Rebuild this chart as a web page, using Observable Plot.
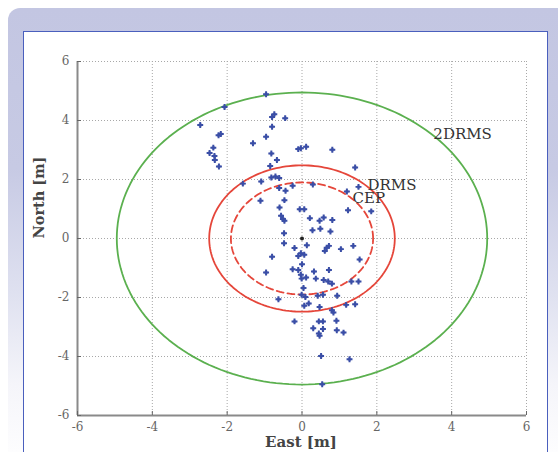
<!DOCTYPE html>
<html>
<head>
<meta charset="utf-8">
<script src="https://cdn.jsdelivr.net/npm/d3@7"></script>
<script src="https://cdn.jsdelivr.net/npm/@observablehq/plot@0.6"></script>
<style>
  html, body { margin: 0; padding: 0; background: #fff; }
  #page { position: relative; width: 558px; height: 452px; overflow: hidden; background: #fff; }
  #bg { position: absolute; left: 8px; top: 8px; width: 560px; height: 460px; border-radius: 12px 0 0 0;
        background: linear-gradient(to bottom, #c3c6e2 0%, #c7cae4 35%, #dfe1f0 62%, #f5f5fa 82%, #ffffff 100%); }
  #panel { position: absolute; left: 23px; top: 31px; width: 525px; height: 440px; box-sizing: border-box;
           background: #fff; border: 1.5px solid #4a5fbd; }
  #chart { position: absolute; left: 0; top: 0; }
</style>
</head>
<body>
<div id="page">
  <div id="bg"></div>
  <div id="panel"></div>
  <div id="chart"></div>
</div>
<script>
// --- data ---
const east = [-0.96,-2.07,-2.72,-0.74,-0.80,-0.45,-0.80,-2.23,-2.17,-0.96,-1.31,-2.37,-2.47,-2.34,-2.33,-2.22,-0.10,-0.03,0.11,0.81,-0.82,-0.67,-0.85,1.42,-1.58,-1.09,-0.82,-0.71,-0.61,-0.25,0.29,-0.61,-0.44,1.20,1.51,-1.11,-0.47,-0.60,-0.06,0.06,1.23,1.85,-0.56,-0.51,-0.47,0.21,0.47,0.58,0.81,0.28,0.49,0.76,-0.48,-0.48,0.13,-0.20,0.66,0.72,1.04,1.37,0.61,-0.03,-0.10,-0.80,0.06,1.54,0.00,-0.25,-0.10,-0.96,-0.03,0.32,0.72,-0.01,0.11,0.37,0.58,0.70,0.80,1.32,1.51,0.04,-0.63,-0.01,0.09,0.42,0.56,0.94,1.42,1.18,0.06,0.18,0.47,0.80,0.84,-0.20,0.45,0.56,0.92,0.30,0.56,0.93,1.11,0.45,0.47,0.51,1.27,0.54];
const north = [4.89,4.46,3.85,4.21,4.12,4.08,3.79,3.50,3.54,3.45,3.23,3.08,2.90,2.80,2.66,2.44,3.03,3.06,3.11,3.01,2.88,2.66,2.46,2.41,1.86,1.93,2.07,2.10,2.05,1.79,1.83,1.71,1.62,1.59,1.75,1.28,1.30,1.05,0.99,0.99,0.96,0.92,0.77,0.66,0.60,0.69,0.60,0.71,0.63,0.28,0.33,0.24,0.18,-0.16,-0.23,-0.32,-0.31,-0.25,-0.36,-0.25,-0.42,-0.50,-0.59,-0.62,-0.55,-0.71,-0.87,-1.04,-1.07,-1.15,-1.23,-1.12,-1.07,-1.36,-1.32,-1.36,-1.41,-1.46,-1.53,-1.46,-1.46,-1.68,-2.06,-1.91,-1.98,-1.94,-1.91,-1.94,-2.23,-2.25,-2.28,-2.20,-2.32,-2.43,-2.51,-2.81,-2.81,-2.81,-2.79,-3.04,-3.07,-3.11,-3.19,-3.22,-3.30,-3.98,-4.09,-4.94];
const centerEast = [0];
const centerNorth = [0];

const ringNames = ["2DRMS", "DRMS", "CEP"];
const ringRadii = [4.95, 2.48, 1.90];

const labelText = ["2DRMS", "DRMS", "CEP"];
const labelEast = [3.51, 1.75, 1.35];
const labelNorth = [3.53, 1.80, 1.36];

const xTicks = [-6, -4, -2, 0, 2, 4, 6];
const yTicks = [-6, -4, -2, 0, 2, 4, 6];
const xTickLabels = ["-6", "-4", "-2", "0", "2", "4", "6"];
const yTickLabels = ["-6", "-4", "-2", "0", "2", "4", "6"];

const xTitle = "East [m]";
const yTitle = "North [m]";

// --- build tables ---
const points = east.map((e, i) => ({east: e, north: north[i]}));
const center = centerEast.map((e, i) => ({east: e, north: centerNorth[i]}));
const ringStyle = {"2DRMS": {stroke: "#5bb04f", dash: null}, "DRMS": {stroke: "#e5463a", dash: null}, "CEP": {stroke: "#e5463a", dash: "7,4"}};
const ringPath = (r) => d3.range(0, 361, 2).map(a => ({east: r * Math.cos(a * Math.PI / 180), north: r * Math.sin(a * Math.PI / 180)}));
const labels = labelText.map((t, i) => ({text: t, east: labelEast[i], north: labelNorth[i]}));

const serif = "'DejaVu Serif', 'Liberation Serif', serif";

const ringMarks = ringNames.map((n, i) => Plot.line(ringPath(ringRadii[i]), {
  x: "east", y: "north", stroke: ringStyle[n].stroke, strokeWidth: 1.8,
  strokeDasharray: ringStyle[n].dash, curve: "linear"
}));

const chart = Plot.plot({
  width: 558,
  height: 452,
  marginLeft: 77,
  marginRight: 32,
  marginTop: 61,
  marginBottom: 37,
  style: {background: "transparent", fontFamily: serif, overflow: "visible"},
  x: {domain: [-6, 6], label: null},
  y: {domain: [-6, 6], label: null},
  marks: [
    Plot.gridX(xTicks, {stroke: "#a8a8a8", strokeOpacity: 1, strokeDasharray: "1,2", strokeWidth: 1}),
    Plot.gridY(yTicks, {stroke: "#a8a8a8", strokeOpacity: 1, strokeDasharray: "1,2", strokeWidth: 1}),
    ...ringMarks,
    Plot.dot(points, {x: "east", y: "north", r: 2.0, fill: "#5a6ab8", fillOpacity: 0.6}),
    Plot.dot(points, {x: "east", y: "north", symbol: "cross", r: 2.5, fill: "#3a4ea6"}),
    Plot.dot(center, {x: "east", y: "north", r: 2.0, fill: "#222"}),
    Plot.text(labels, {x: "east", y: "north", text: "text", textAnchor: "start", lineAnchor: "middle",
      fontSize: 15, fill: "#333", fontFamily: serif}),
    Plot.ruleX([-6], {stroke: "#8a8a8a", strokeWidth: 2}),
    Plot.ruleY([-6], {stroke: "#8a8a8a", strokeWidth: 2}),
    Plot.axisX(xTicks, {anchor: "bottom", tickSize: -4, tickPadding: 11, tickFormat: (d) => xTickLabels[xTicks.indexOf(d)],
      fontSize: 12, fill: "#666", stroke: "#666", label: null}),
    Plot.axisY(yTicks, {anchor: "left", tickSize: -4, tickPadding: 12, tickFormat: (d) => yTickLabels[yTicks.indexOf(d)],
      fontSize: 12, fill: "#666", stroke: "#666", label: null}),
    Plot.text([xTitle], {frameAnchor: "bottom", dy: 27, lineAnchor: "middle", fontSize: 15, fontWeight: "bold",
      fill: "#444", fontFamily: serif, dx: -1}),
    Plot.text([yTitle], {frameAnchor: "left", dx: -38, rotate: -90, lineAnchor: "middle", fontSize: 14.5, fontWeight: "bold",
      fill: "#444", fontFamily: serif})
  ]
});
document.getElementById("chart").appendChild(chart);
</script>
</body>
</html>
